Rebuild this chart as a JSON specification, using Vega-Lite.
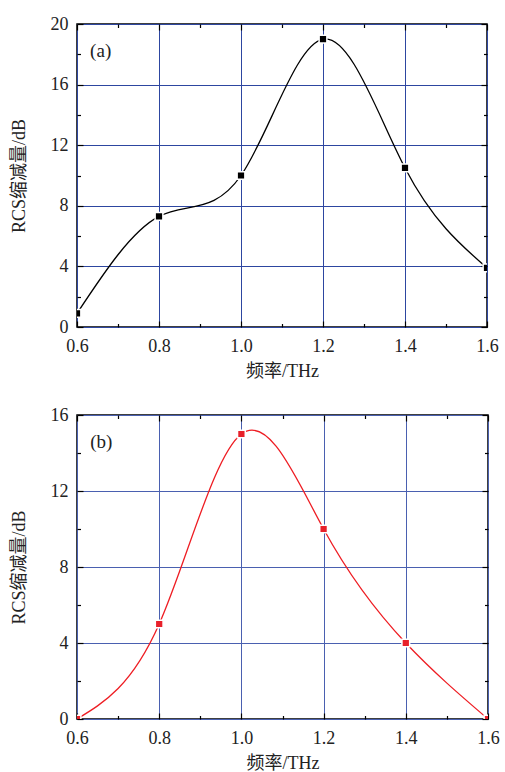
{
  "$schema": "https://vega.github.io/schema/vega-lite/v6.json",
  "background": "white",
  "padding": {"left": 9, "top": 14, "right": 10, "bottom": 5},
  "config": {
    "font": "Liberation Serif, DejaVu Serif, serif",
    "view": {"stroke": "black", "strokeWidth": 1.5},
    "axis": {"labelFont": "Liberation Serif, DejaVu Serif, serif", "titleFont": "Liberation Serif, Noto Sans CJK SC, serif", "labelColor": "#222", "titleColor": "#222", "labelFontSize": 18, "titleFontSize": 18, "titleFontWeight": "normal", "domain": false, "tickColor": "black", "tickWidth": 1.2, "labelFlush": false}
  },
  "spacing": 24,
  "datasets": {
    "a": [
      {"f": 0.6, "rcs": 0.9}, {"f": 0.8, "rcs": 7.3}, {"f": 1.0, "rcs": 10.0},
      {"f": 1.2, "rcs": 19.0}, {"f": 1.4, "rcs": 10.5}, {"f": 1.6, "rcs": 3.9}
    ],
    "b": [
      {"f": 0.6, "rcs": 0.0}, {"f": 0.8, "rcs": 5.0}, {"f": 1.0, "rcs": 15.0},
      {"f": 1.2, "rcs": 10.0}, {"f": 1.4, "rcs": 4.0}, {"f": 1.6, "rcs": 0.0}
    ],
    "la": [{"label": "(a)", "x": 0.632, "y": 18.2}],
    "lb": [{"label": "(b)", "x": 0.632, "y": 14.6}]
  },
  "vconcat": [
    {
      "width": 410,
      "height": 303,
      "resolve": {"axis": {"x": "independent", "y": "independent"}},
      "layer": [
        {
          "data": {"name": "a"},
          "mark": {"type": "line", "interpolate": "natural", "color": "black", "strokeWidth": 1.3, "clip": true},
          "encoding": {
            "x": {"field": "f", "type": "quantitative", "scale": {"domain": [0.6, 1.6], "nice": false, "zero": false},
              "axis": {"orient": "bottom", "values": [0.6, 0.7, 0.8, 0.9, 1.0, 1.1, 1.2, 1.3, 1.4, 1.5, 1.6],
                "labelExpr": "round(datum.value*10)%2==0 ? format(datum.value,'.1f') : ''",
                "tickSize": {"condition": {"test": "round(datum.value*10)%2==0", "value": -6}, "value": -3.5},
                "labelPadding": 16, "grid": true, "gridColor": "#2d46a0", "gridWidth": 1,
                "gridOpacity": {"condition": {"test": "round(datum.value*10)%2==0", "value": 1}, "value": 0},
                "title": "频率/THz", "titlePadding": 7}},
            "y": {"field": "rcs", "type": "quantitative", "scale": {"domain": [0, 20], "nice": false},
              "axis": {"orient": "left", "values": [0, 2, 4, 6, 8, 10, 12, 14, 16, 18, 20],
                "labelExpr": "datum.value%4==0 ? format(datum.value,'d') : ''",
                "tickSize": {"condition": {"test": "datum.value%4==0", "value": -6}, "value": -3.5},
                "labelPadding": 15, "grid": true, "gridColor": "#2d46a0", "gridWidth": 1,
                "gridOpacity": {"condition": {"test": "datum.value%4==0", "value": 1}, "value": 0},
                "title": "RCS缩减量/dB", "titlePadding": 22}}
          }
        },
        {
          "data": {"name": "a"},
          "mark": {"type": "square", "size": 60, "color": "black", "opacity": 1, "stroke": "white", "strokeWidth": 1.5, "clip": true},
          "encoding": {
            "x": {"field": "f", "type": "quantitative",
              "axis": {"orient": "top", "values": [0.6, 0.7, 0.8, 0.9, 1.0, 1.1, 1.2, 1.3, 1.4, 1.5, 1.6], "labels": false, "title": null, "grid": false,
                "tickSize": {"condition": {"test": "round(datum.value*10)%2==0", "value": -6}, "value": -3.5}}},
            "y": {"field": "rcs", "type": "quantitative",
              "axis": {"orient": "right", "values": [0, 2, 4, 6, 8, 10, 12, 14, 16, 18, 20], "labels": false, "title": null, "grid": false,
                "tickSize": {"condition": {"test": "datum.value%4==0", "value": -6}, "value": -3.5}}}
          }
        },
        {
          "data": {"name": "la"},
          "mark": {"type": "text", "align": "left", "baseline": "middle", "fontSize": 19, "font": "Liberation Serif, DejaVu Serif, serif", "color": "#222"},
          "encoding": {
            "x": {"field": "x", "type": "quantitative", "axis": null},
            "y": {"field": "y", "type": "quantitative", "axis": null},
            "text": {"field": "label"}
          }
        }
      ]
    },
    {
      "width": 411,
      "height": 304,
      "resolve": {"axis": {"x": "independent", "y": "independent"}},
      "layer": [
        {
          "data": {"name": "b"},
          "mark": {"type": "line", "interpolate": "natural", "color": "#ee1d23", "strokeWidth": 1.3, "clip": true},
          "encoding": {
            "x": {"field": "f", "type": "quantitative", "scale": {"domain": [0.6, 1.6], "nice": false, "zero": false},
              "axis": {"orient": "bottom", "values": [0.6, 0.7, 0.8, 0.9, 1.0, 1.1, 1.2, 1.3, 1.4, 1.5, 1.6],
                "labelExpr": "round(datum.value*10)%2==0 ? format(datum.value,'.1f') : ''",
                "tickSize": {"condition": {"test": "round(datum.value*10)%2==0", "value": -6}, "value": -3.5},
                "labelPadding": 16, "grid": true, "gridColor": "#4a60b0", "gridWidth": 1,
                "gridOpacity": {"condition": {"test": "round(datum.value*10)%2==0", "value": 1}, "value": 0},
                "title": "频率/THz", "titlePadding": 7}},
            "y": {"field": "rcs", "type": "quantitative", "scale": {"domain": [0, 16], "nice": false},
              "axis": {"orient": "left", "values": [0, 2, 4, 6, 8, 10, 12, 14, 16],
                "labelExpr": "datum.value%4==0 ? format(datum.value,'d') : ''",
                "tickSize": {"condition": {"test": "datum.value%4==0", "value": -6}, "value": -3.5},
                "labelPadding": 15, "grid": true, "gridColor": "#4a60b0", "gridWidth": 1,
                "gridOpacity": {"condition": {"test": "datum.value%4==0", "value": 1}, "value": 0},
                "title": "RCS缩减量/dB", "titlePadding": 22}}
          }
        },
        {
          "data": {"name": "b"},
          "mark": {"type": "square", "size": 60, "color": "#e8202a", "opacity": 1, "stroke": "white", "strokeWidth": 1.5, "clip": true},
          "encoding": {
            "x": {"field": "f", "type": "quantitative",
              "axis": {"orient": "top", "values": [0.6, 0.7, 0.8, 0.9, 1.0, 1.1, 1.2, 1.3, 1.4, 1.5, 1.6], "labels": false, "title": null, "grid": false,
                "tickSize": {"condition": {"test": "round(datum.value*10)%2==0", "value": -6}, "value": -3.5}}},
            "y": {"field": "rcs", "type": "quantitative",
              "axis": {"orient": "right", "values": [0, 2, 4, 6, 8, 10, 12, 14, 16], "labels": false, "title": null, "grid": false,
                "tickSize": {"condition": {"test": "datum.value%4==0", "value": -6}, "value": -3.5}}}
          }
        },
        {
          "data": {"name": "lb"},
          "mark": {"type": "text", "align": "left", "baseline": "middle", "fontSize": 19, "font": "Liberation Serif, DejaVu Serif, serif", "color": "#222"},
          "encoding": {
            "x": {"field": "x", "type": "quantitative", "axis": null},
            "y": {"field": "y", "type": "quantitative", "axis": null},
            "text": {"field": "label"}
          }
        }
      ]
    }
  ]
}
